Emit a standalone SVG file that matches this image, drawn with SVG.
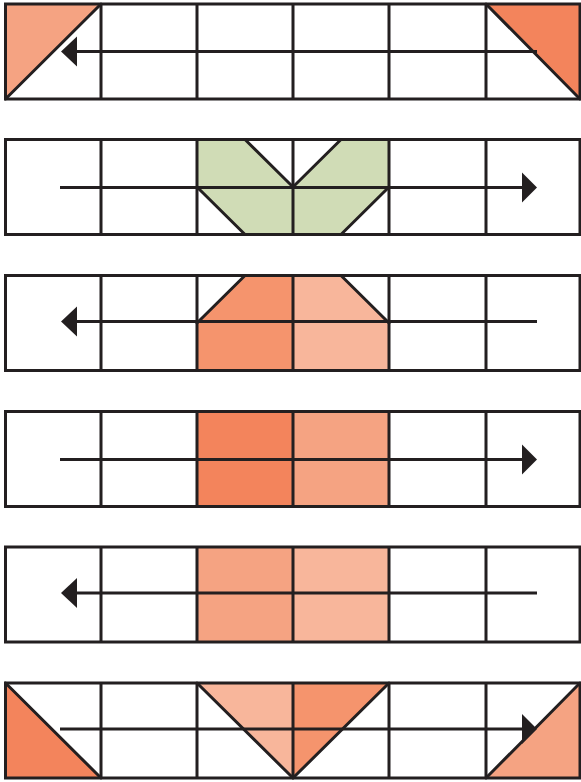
<svg xmlns="http://www.w3.org/2000/svg" width="581" height="782" viewBox="0 0 581 782">
<style>
.grid{fill:none;stroke:#231F20;stroke-width:3;stroke-linejoin:miter}
.edge{fill:none;stroke:#231F20;stroke-width:3;stroke-linecap:round}
.conn{fill:none;stroke:#231F20;stroke-width:3}
.head{fill:#231F20;stroke:none}
.c1{fill:#F3845C}
.c2{fill:#F5946D}
.c3{fill:#F5A382}
.c4{fill:#F8B69B}
.g{fill:#D0DCB6}
</style>
<defs>
<g id="cells">
<rect class="grid" x="5.5" y="0" width="574.5" height="95"/>
<path class="grid" d="M101 0V95M197 0V95M293 0V95M389 0V95M486 0V95"/>
</g>
</defs>
<g id="strip1" transform="translate(0,4)">
<polygon class="c3" points="5.5,0 101,0 5.5,95"/>
<polygon class="c1" points="486,0 580,0 580,95"/>
<use href="#cells"/>
<path class="edge" d="M5.5 95L101 0M486 0L580 95"/>
</g>
<g id="strip2" transform="translate(0,139.5)">
<polygon class="g" points="197,0 245,0 293,47.5 341,0 389,0 389,47.5 341,95 245,95 197,47.5"/>
<use href="#cells"/>
<path class="edge" d="M245 0L293 47.5L341 0M197 47.5L245 95M389 47.5L341 95"/>
</g>
<g id="strip3" transform="translate(0,275.5)">
<polygon class="c2" points="197,47.5 245,0 293,0 293,95 197,95"/>
<polygon class="c4" points="293,0 341,0 389,47.5 389,95 293,95"/>
<use href="#cells"/>
<path class="edge" d="M197 47.5L245 0M341 0L389 47.5"/>
</g>
<g id="strip4" transform="translate(0,411.5)">
<rect class="c1" x="197" y="0" width="96" height="95"/>
<rect class="c3" x="293" y="0" width="96" height="95"/>
<use href="#cells"/>
</g>
<g id="strip5" transform="translate(0,547)">
<rect class="c3" x="197" y="0" width="96" height="95"/>
<rect class="c4" x="293" y="0" width="96" height="95"/>
<use href="#cells"/>
</g>
<g id="strip6" transform="translate(0,683)">
<polygon class="c1" points="5.5,0 101,95 5.5,95"/>
<polygon class="c4" points="197,0 293,0 293,95"/>
<polygon class="c2" points="293,0 389,0 293,95"/>
<polygon class="c3" points="486,95 580,0 580,95"/>
<use href="#cells"/>
<path class="edge" d="M5.5 0L101 95M197 0L293 95L389 0M486 95L580 0"/>
</g>
<g id="connectors">
<path class="conn" d="M70 51.5H537"/>
<polygon class="head" points="61,51.5 77,36.5 77,66.5"/>
<path class="conn" d="M60 187.5H528"/>
<polygon class="head" points="537,187.5 522,172.5 522,202.5"/>
<path class="conn" d="M70 321.5H537"/>
<polygon class="head" points="61,321.5 77,306.5 77,336.5"/>
<path class="conn" d="M60 459.5H528"/>
<polygon class="head" points="537,459.5 522,444.5 522,474.5"/>
<path class="conn" d="M70 593H537"/>
<polygon class="head" points="61,593 77,578 77,608"/>
<path class="conn" d="M60 729H528"/>
<polygon class="head" points="537,729 522,714 522,744"/>
</g>
</svg>
